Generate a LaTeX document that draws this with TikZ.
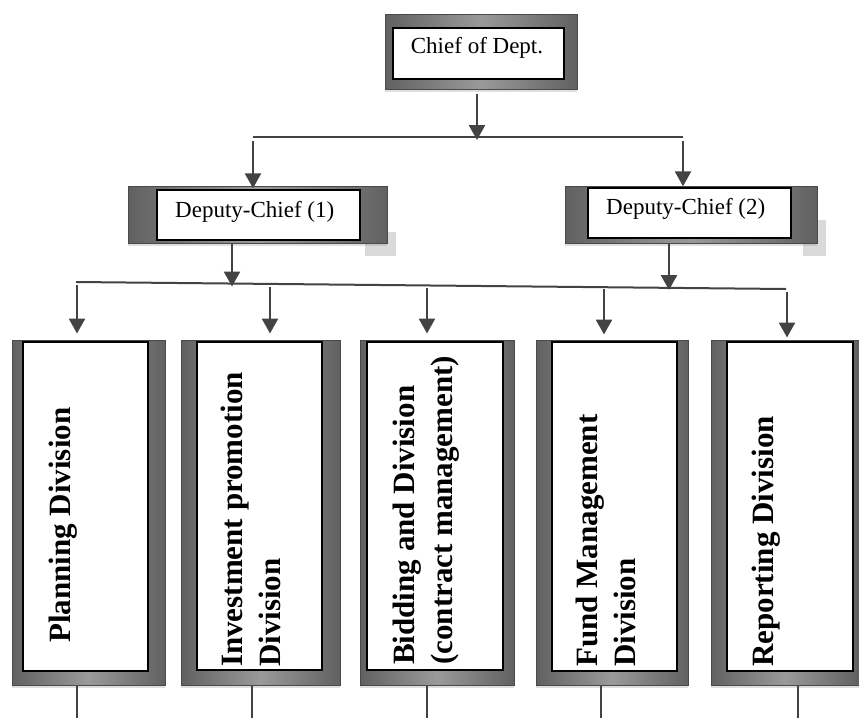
\documentclass[tikz,border=0pt]{standalone}
\usepackage{fontspec}
\setmainfont{Liberation Serif}
\usetikzlibrary{arrows.meta,shadows}

\definecolor{linkgray}{HTML}{434343}
\definecolor{framefill}{HTML}{727272}
\definecolor{frameedge}{HTML}{4A4A4A}
\definecolor{framelight}{HTML}{9A9A9A}
\definecolor{ghost}{HTML}{DADADA}

\tikzset{
  frame/.style={rectangle, inner sep=0pt, draw=frameedge, line width=1pt,
    left color=framefill!85!black, right color=framefill!85!black, middle color=framelight,
    drop shadow={shadow xshift=0pt, shadow yshift=-3pt, opacity=0.25}},
  whitebox/.style={rectangle, inner sep=0pt, draw=black, line width=1.4pt, fill=white},
  link/.style={draw=linkgray, line width=2.6pt},
  bus/.style={draw=linkgray, line width=2pt},
  arr/.style={link, -{Triangle[width=16pt,length=15pt]}},
  toptext/.style={inner sep=0pt, font=\fontsize{23}{27}\selectfont},
  divtext/.style={inner sep=0pt, rotate=90, anchor=base west, align=left,
    font=\fontsize{31}{38}\selectfont\bfseries},
}

\begin{document}
\begin{tikzpicture}[x=1pt, y=-1pt]
\useasboundingbox (0,0) rectangle (859,718);

% faint patches beside the deputy boxes
\fill[ghost] (365,232) rectangle (396,256);
\fill[ghost] (803,220) rectangle (826,256);

% ---- chief ----
\node[frame, minimum width=192pt, minimum height=75pt] (chief) at (481,51.5) {};
\node[whitebox, minimum width=171pt, minimum height=51pt] (chiefin) at (478.5,53.5) {};
\node[toptext, anchor=base] (chieftxt) at (477,53) {Chief of Dept.};

% ---- deputies ----
\node[frame, minimum width=259pt, minimum height=57pt] (dep1) at (257.5,214.5) {};
\node[whitebox, minimum width=203pt, minimum height=50pt] (dep1in) at (258.5,215) {};
\node[toptext, anchor=base west] (dep1txt) at (175,217) {Deputy-Chief (1)};

\node[frame, minimum width=252pt, minimum height=57pt] (dep2) at (691,214.5) {};
\node[whitebox, minimum width=203pt, minimum height=50pt] (dep2in) at (689.5,213) {};
\node[toptext, anchor=base west] (dep2txt) at (606,214) {Deputy-Chief (2)};

% ---- divisions (text anchored on the baseline of its last line) ----
\node[frame, minimum width=153pt, minimum height=345pt] (plan) at (88.5,512.5) {};
\node[whitebox, minimum width=125pt, minimum height=329pt] (planin) at (85.5,506.5) {};
\node[divtext] (plantxt) at (70,643) {Planning Division};

\node[frame, minimum width=159pt, minimum height=345pt] (invest) at (260.5,512.5) {};
\node[whitebox, minimum width=125pt, minimum height=328pt] (investin) at (259.5,506) {};
\node[divtext] (investtxt) at (280,667) {Investment promotion\\Division};

\node[frame, minimum width=154pt, minimum height=345pt] (bid) at (437,512.5) {};
\node[whitebox, minimum width=136pt, minimum height=328pt] (bidin) at (435,506) {};
\node[divtext] (bidtxt) at (452,665) {Bidding and Division\\(contract management)};

\node[frame, minimum width=152pt, minimum height=345pt] (fund) at (612,512.5) {};
\node[whitebox, minimum width=125pt, minimum height=329pt] (fundin) at (614.5,506.5) {};
\node[divtext] (fundtxt) at (635,667) {Fund Management\\Division};

\node[frame, minimum width=148pt, minimum height=345pt] (report) at (785,512.5) {};
\node[whitebox, minimum width=126pt, minimum height=329pt] (reportin) at (790,506.5) {};
\node[divtext] (reporttxt) at (773,667) {Reporting Division};

% ---- chief to deputies ----
\coordinate (cdrop) at (477,140);
\coordinate (tbL) at (253,137);
\coordinate (tbR) at (683,137);
\coordinate (t1) at (253,141);
\coordinate (t2) at (683,141);
\draw[bus] (tbL) -- (tbR);
\draw[arr, shorten <=4pt] (chief.south -| cdrop) -- (cdrop);
\draw[arr, shorten >=1pt] (t1) -- (t1 |- dep1in.north);
\draw[arr, shorten >=1pt] (t2) -- (t2 |- dep2in.north);

% ---- deputies to divisions ----
\coordinate (lbL) at (76,282);
\coordinate (lbR) at (786,289);
\draw[bus] (lbL) -- (lbR);
\coordinate (d1) at (232,286.5);
\coordinate (d2) at (669,290);
\draw[arr] (dep1.south -| d1) -- (d1);
\draw[arr] (dep2.south -| d2) -- (d2);

\coordinate (a1) at (77,285);
\coordinate (a2) at (270,287);
\coordinate (a3) at (427,288);
\coordinate (a4) at (604,289);
\coordinate (a5) at (787,292);
\draw[arr, shorten >=6pt] (a1) -- (a1 |- plan.north);
\draw[arr, shorten >=6pt] (a2) -- (a2 |- invest.north);
\draw[arr, shorten >=6pt] (a3) -- (a3 |- bid.north);
\draw[arr, shorten >=5pt] (a4) -- (a4 |- fund.north);
\draw[arr, shorten >=2pt] (a5) -- (a5 |- report.north);

% ---- stubs below the divisions ----
\coordinate (s1) at (77,718);
\coordinate (s2) at (252,718);
\coordinate (s3) at (427,718);
\coordinate (s4) at (601,718);
\coordinate (s5) at (798,718);
\draw[link] (s1 |- plan.south) -- (s1);
\draw[link] (s2 |- invest.south) -- (s2);
\draw[link] (s3 |- bid.south) -- (s3);
\draw[link] (s4 |- fund.south) -- (s4);
\draw[link] (s5 |- report.south) -- (s5);
\end{tikzpicture}
\end{document}
